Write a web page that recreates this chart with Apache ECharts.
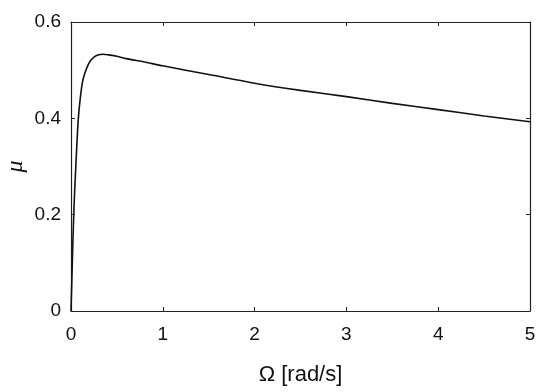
<!DOCTYPE html>
<html>
<head>
<meta charset="utf-8">
<script src="https://cdn.jsdelivr.net/npm/echarts@6/dist/echarts.min.js"></script>
<style>
  html, body { margin: 0; padding: 0; background: #fff; }
  #chart { width: 550px; height: 392px; }
</style>
</head>
<body>
<div id="chart"></div>
<script>
// angular velocity (rad/s) and friction coefficient
const omega = [0, 0.01, 0.02, 0.03, 0.04, 0.05, 0.065, 0.08, 0.1, 0.125, 0.15, 0.2, 0.25, 0.3, 0.35, 0.4, 0.5, 0.6, 0.8, 1.0, 1.5, 2.0, 2.5, 3.0, 3.5, 4.0, 4.5, 5.0];
const mu = [0, 0.07, 0.14, 0.2, 0.25, 0.29, 0.35, 0.4, 0.44, 0.475, 0.493, 0.516, 0.527, 0.532, 0.533, 0.532, 0.529, 0.524, 0.517, 0.509, 0.491, 0.473, 0.458, 0.445, 0.431, 0.418, 0.405, 0.393];
const xTicks = [0, 1, 2, 3, 4, 5];
const yTicks = [0, 0.2, 0.4, 0.6];

const chart = echarts.init(document.getElementById('chart'));

const lineCol = '#222';
const tickFont = { fontFamily: 'Liberation Sans', fontSize: 19, color: '#111' };

const boxAxis = (extra) => Object.assign({
    type: 'value',
    axisLine: { show: true, onZero: false, lineStyle: { color: lineCol, width: 1.2 } },
    axisTick: { show: true, inside: true, length: 4, lineStyle: { color: lineCol, width: 1 } },
    splitLine: { show: false }
}, extra);

chart.setOption({
    animation: false,
    grid: { left: 71, right: 20, top: 22, bottom: 81, containLabel: false, outerBoundsMode: 'none' },
    xAxis: [
        boxAxis({
            min: xTicks[0], max: xTicks[xTicks.length - 1], interval: 1,
            position: 'bottom',
            name: 'Ω [rad/s]', nameLocation: 'middle', nameGap: 53, nameMoveOverlap: false,
            nameTextStyle: { fontFamily: 'Liberation Sans', fontSize: 22, color: '#111' },
            axisLabel: Object.assign({ margin: 14 }, tickFont)
        }),
        boxAxis({
            min: xTicks[0], max: xTicks[xTicks.length - 1], interval: 1,
            position: 'top', axisLabel: { show: false }
        })
    ],
    yAxis: [
        boxAxis({
            min: yTicks[0], max: yTicks[yTicks.length - 1], interval: 0.2,
            position: 'left',
            name: 'μ', nameLocation: 'middle', nameGap: 43, nameRotate: 90, nameMoveOverlap: false,
            nameTextStyle: { fontFamily: 'Liberation Serif', fontStyle: 'italic', fontSize: 24, color: '#111' },
            axisLabel: Object.assign({ margin: 10 }, tickFont)
        }),
        boxAxis({
            min: yTicks[0], max: yTicks[yTicks.length - 1], interval: 0.2,
            position: 'right', axisLabel: { show: false }
        })
    ],
    series: [{
        type: 'line',
        data: omega.map((x, i) => [x, mu[i]]),
        showSymbol: false,
        smooth: 0.3,
        lineStyle: { color: '#111', width: 1.6 },
        xAxisIndex: 0,
        yAxisIndex: 0
    }]
});
</script>
</body>
</html>
